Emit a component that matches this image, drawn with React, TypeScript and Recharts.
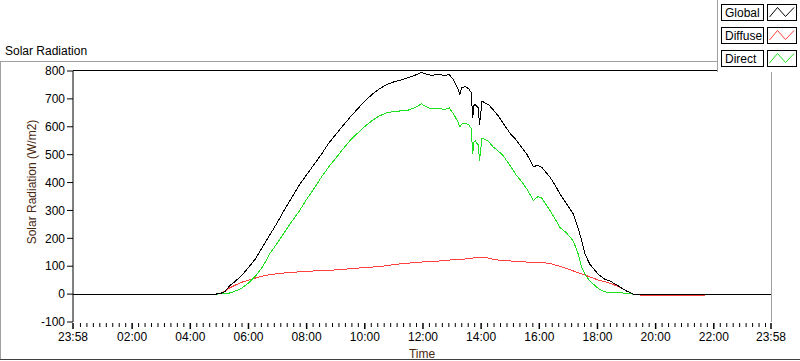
import { LineChart, Line, XAxis, YAxis } from 'recharts';

// time of day in hours (23:58 of the previous day = -1/30)
const timeHours = [
  -1 / 30, 4.88, 5.05, 5.2, 5.35, 5.5, 5.75, 6.0, 6.25, 6.5, 6.75, 7.0, 7.25, 7.5, 7.75, 8.0,
  8.25, 8.5, 8.75, 9.0, 9.25, 9.5, 9.75, 10.0, 10.25, 10.5, 10.75, 11.0, 11.25, 11.5, 11.75,
  11.95, 12.1, 12.3, 12.5, 12.75, 12.9, 13.05, 13.18, 13.27, 13.33, 13.45, 13.58, 13.66, 13.71,
  13.75, 13.8, 13.86, 13.91, 13.94, 13.98, 14.03, 14.12, 14.25, 14.42, 14.6, 14.76, 15.0, 15.22,
  15.4, 15.57, 15.8, 15.95, 16.08, 16.37, 16.55, 16.71, 16.94, 17.17, 17.34, 17.46, 17.57, 17.74,
  18.03, 18.26, 18.43, 18.72, 19.0, 19.23, 19.45, 19.47, 21.7, 24 - 1 / 30,
];

const globalRad = [
  0, 0, 3, 10, 30, 42, 65, 95, 128, 172, 215, 258, 305, 348, 392, 428,
  464, 500, 540, 572, 604, 635, 664, 692, 716, 736, 751, 761, 768, 776, 786,
  795, 789, 784, 788, 784, 788, 768, 742, 716, 740, 744, 736, 722, 630,
  676, 680, 672, 668, 605, 640, 692, 686, 680, 660, 638, 612, 576, 551,
  525, 502, 457, 462, 455, 419, 390, 359, 323, 287, 235, 191, 143, 107,
  71, 53, 47, 29, 11, 0, 0, 0, 0, 0,
];

const diffuseRad: (number | null)[] = [
  null, 0, 4, 12, 22, 30, 42, 50, 58, 65, 70, 73, 76, 78, 80, 81,
  83, 83, 85, 87, 89, 91, 93, 96, 97, 99, 102, 106, 109, 111, 113,
  115, 116, 117, 118, 121, 122, 123, 124, 125, 125, 126, 127, 128, 129,
  130, 130, 131, 131, 132, 132, 133, 132, 129, 125, 122, 120, 119, 117,
  116, 115, 114, 113, 113, 110, 104, 100, 92, 83, 77, 73, 68, 62,
  50, 44, 39, 27, 12, 0, 0, -4, -4, null,
];

const directRad: (number | null)[] = [
  null, 0, 1, 2, 4, 9, 20, 40, 65, 100, 148, 184, 224, 262, 298, 340,
  378, 418, 455, 487, 520, 552, 577, 601, 622, 639, 650, 655, 657, 660, 670,
  682, 672, 664, 667, 662, 668, 646, 622, 600, 610, 614, 606, 594, 503,
  545, 550, 540, 535, 479, 510, 560, 555, 548, 527, 512, 496, 460, 425,
  403, 377, 335, 350, 345, 299, 268, 239, 219, 190, 143, 95, 71, 47,
  20, 8, 6, 5, 3, 0, 0, null, null, null,
];

const xMin = -1 / 30;
const xMax = 24 - 1 / 30;
const xTicks = [xMin, 2, 4, 6, 8, 10, 12, 14, 16, 18, 20, 22, xMax];
const xTickLabels = ['23:58', '02:00', '04:00', '06:00', '08:00', '10:00', '12:00', '14:00', '16:00', '18:00', '20:00', '22:00', '23:58'];
const yTicks = [-100, 0, 100, 200, 300, 400, 500, 600, 700, 800];

const legendItems = [
  { name: 'Global', color: '#000000' },
  { name: 'Diffuse', color: '#ff4040' },
  { name: 'Direct', color: '#1ee01e' },
];

const data = timeHours.map((t, i) => ({
  t,
  g: globalRad[i],
  f: diffuseRad[i],
  d: directRad[i],
}));

// minor ticks: 8 between each pair of 2h majors
const minorTicks: number[] = [];
for (let h = 0; h < 24; h += 2) {
  for (let k = 1; k < 9; k++) minorTicks.push(h + (k * 2) / 9);
}
const allXTicks = [...xTicks, ...minorTicks].sort((a, b) => a - b);

const FONT = '"Liberation Sans", Arial, sans-serif';

const XTick = ({ x, y, payload }: any) => {
  const idx = xTicks.findIndex((t) => Math.abs(t - payload.value) < 1e-6);
  const major = idx >= 0;
  return (
    <g>
      <line x1={x} x2={x} y1={y + 1} y2={y + (major ? 7 : 5)} stroke="#000" strokeWidth={major ? 1.5 : 1} />
      {major && (
        <text x={x} y={y + 19} textAnchor="middle" fontSize={12} fontFamily={FONT} fill="#000">
          {xTickLabels[idx]}
        </text>
      )}
    </g>
  );
};

export default function App() {
  return (
    <div style={{ position: 'absolute', left: 0, top: 0, width: 800, height: 361, background: '#fff' }}>
      <style>{'.recharts-line-curve { shape-rendering: crispEdges; }'}</style>
      <LineChart width={800} height={361} data={data} margin={{ top: 71, right: 29, bottom: 0, left: 0 }}>
        <XAxis
          type="number"
          dataKey="t"
          domain={[xMin, xMax]}
          ticks={allXTicks}
          interval={0}
          axisLine={false}
          tickLine={false}
          tickSize={0}
          tickMargin={0}
          height={39}
          tick={<XTick />}
        />
        <YAxis
          type="number"
          domain={[-100, 800]}
          ticks={yTicks}
          interval={0}
          width={73}
          axisLine={{ stroke: '#000' }}
          tickLine={{ stroke: '#000' }}
          tickSize={6}
          tickMargin={2}
          tick={{ fill: '#000', fontSize: 12, fontFamily: FONT }}
        />
        <Line type="linear" dataKey="f" stroke="#ff4040" strokeWidth={1} dot={false} isAnimationActive={false} />
        <Line type="linear" dataKey="d" stroke="#1ee01e" strokeWidth={1} dot={false} isAnimationActive={false} />
        <Line type="linear" dataKey="g" stroke="#000000" strokeWidth={1} dot={false} isAnimationActive={false} />
      </LineChart>
      <svg width={800} height={361} style={{ position: 'absolute', left: 0, top: 0, pointerEvents: 'none' }}>
        {/* outer frame */}
        <line x1={0} x2={800} y1={61.5} y2={61.5} stroke="#a0a0a0" />
        <line x1={0.5} x2={0.5} y1={61} y2={360} stroke="#a0a0a0" />
        <line x1={0} x2={800} y1={359.5} y2={359.5} stroke="#404040" />
        {/* plot frame */}
        <line x1={73} x2={772} y1={70.5} y2={70.5} stroke="#000" />
        <line x1={771.5} x2={771.5} y1={70} y2={322} stroke="#a0a0a0" />
        <text x={5} y={55} fontSize={12} fontFamily={FONT} fill="#000">Solar Radiation</text>
        <text
          transform="translate(36,182) rotate(-90)"
          textAnchor="middle"
          fontSize={12}
          fontFamily={FONT}
          fill="#4a2810"
        >
          Solar Radiation (W/m2)
        </text>
        <text x={422} y={358} textAnchor="middle" fontSize={12} fontFamily={FONT} fill="#4a2810">Time</text>
        {/* legend */}
        <rect x={718} y={0} width={82} height={72} fill="#fff" />
        <line x1={717.5} x2={717.5} y1={0} y2={72} stroke="#a0a0a0" />
        {legendItems.map((it, i) => {
          const top = 4.5 + i * 23;
          return (
            <g key={it.name}>
              <rect x={721.5} y={top} width={42} height={16} fill="#fff" stroke="#000" />
              <text x={725} y={top + 12.5} fontSize={12} fontFamily={FONT} fill="#000">{it.name}</text>
              <rect x={767.5} y={top} width={29} height={16} fill="#fff" stroke="#000" />
              <polyline
                points={`769.5,${top + 12.5} 777.5,${top + 3} 785.5,${top + 12} 794,${top + 3}`}
                fill="none"
                stroke={it.color}
              />
            </g>
          );
        })}
      </svg>
    </div>
  );
}
